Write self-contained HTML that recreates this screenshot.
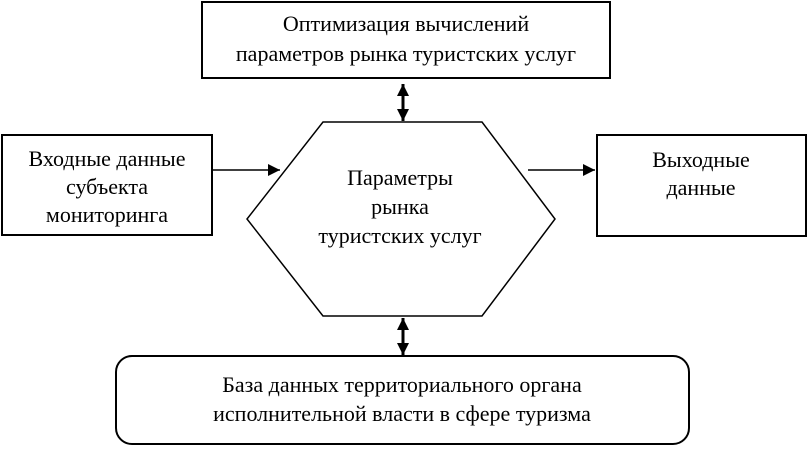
<!DOCTYPE html>
<html><head><meta charset="utf-8"><style>
html,body{margin:0;padding:0;background:#fff;}
body{width:808px;height:447px;overflow:hidden;}
svg text{font-family:"Liberation Serif",serif;font-size:22px;fill:#000;text-anchor:middle;}
</style></head><body>
<svg width="808" height="447" viewBox="0 0 808 447" xmlns="http://www.w3.org/2000/svg">
<defs>
<marker id="a" viewBox="0 0 12 12" refX="12" refY="6" markerWidth="14" markerHeight="12" markerUnits="userSpaceOnUse" orient="auto-start-reverse"><path d="M0,0 L12,6 L0,12 z" fill="#000"/></marker>
</defs>
<rect x="202" y="2" width="408" height="76" fill="#fff" stroke="#000" stroke-width="2"/>
<text x="406" y="31">Оптимизация вычислений</text>
<text x="406" y="61">параметров рынка туристских услуг</text>
<line x1="403" y1="84" x2="403" y2="121" stroke="#000" stroke-width="3" marker-start="url(#a)" marker-end="url(#a)"/>
<polygon points="323,122 482,122 555,219 482,316 323,316 247,219" fill="#fff" stroke="#000" stroke-width="1.5"/>
<text x="400" y="185">Параметры</text>
<text x="400" y="214">рынка</text>
<text x="400" y="243">туристских услуг</text>
<rect x="2" y="135" width="210" height="100" fill="#fff" stroke="#000" stroke-width="2"/>
<text x="107" y="166">Входные данные</text>
<text x="107" y="194">субъекта</text>
<text x="107" y="222">мониторинга</text>
<line x1="212" y1="170" x2="280" y2="170" stroke="#000" stroke-width="1.5" marker-end="url(#a)"/>
<rect x="597" y="135" width="209" height="101" fill="#fff" stroke="#000" stroke-width="2"/>
<text x="701" y="167">Выходные</text>
<text x="701" y="195">данные</text>
<line x1="528" y1="170" x2="595" y2="170" stroke="#000" stroke-width="1.5" marker-end="url(#a)"/>
<line x1="403" y1="318" x2="403" y2="355" stroke="#000" stroke-width="3" marker-start="url(#a)" marker-end="url(#a)"/>
<rect x="116" y="356" width="573" height="88" rx="16" fill="#fff" stroke="#000" stroke-width="2"/>
<text x="402" y="392">База данных территориального органа</text>
<text x="402" y="421">исполнительной власти в сфере туризма</text>
</svg>
</body></html>
